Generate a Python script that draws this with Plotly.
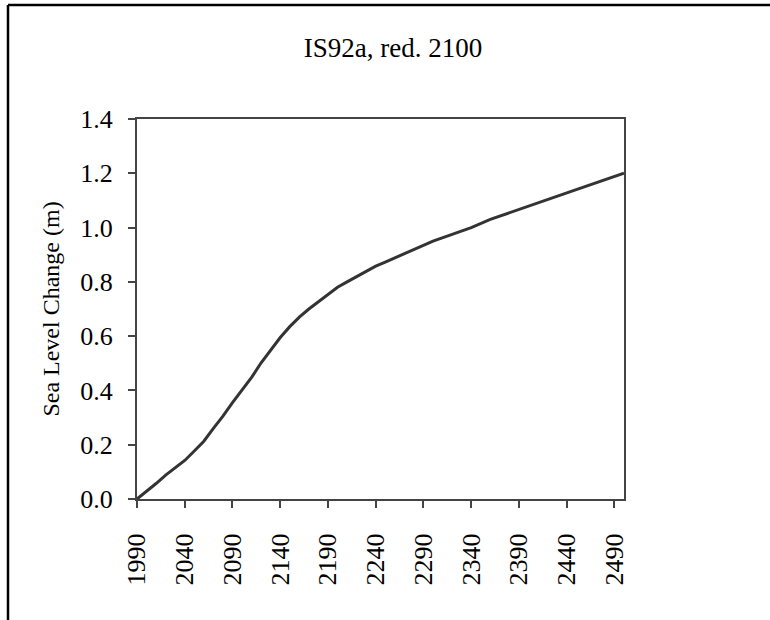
import plotly.graph_objects as go

# Projected sea level change, IS92a scenario with emissions reduced from 2100
years = [1990, 2000, 2010, 2020, 2030, 2040, 2050, 2060, 2070, 2080, 2090,
         2100, 2110, 2120, 2130, 2140, 2150, 2160, 2170, 2180, 2190, 2200,
         2210, 2220, 2230, 2240, 2250, 2260, 2270, 2280, 2290, 2300, 2320,
         2340, 2360, 2380, 2400, 2450, 2500]
sea_level = [0.0, 0.028, 0.057, 0.088, 0.115, 0.142, 0.177, 0.213, 0.26, 0.305, 0.355,
             0.40, 0.448, 0.502, 0.55, 0.595, 0.635, 0.67, 0.70, 0.727, 0.755, 0.78,
             0.80, 0.82, 0.84, 0.858, 0.873, 0.888, 0.903, 0.918, 0.935, 0.95, 0.975,
             1.0, 1.03, 1.055, 1.08, 1.14, 1.2]

x_ticks = list(range(1990, 2500, 50))
y_ticks = [0.0, 0.2, 0.4, 0.6, 0.8, 1.0, 1.2, 1.4]

FONT = "Liberation Serif, Times New Roman, serif"

fig = go.Figure(go.Scatter(
    x=years, y=sea_level, mode="lines",
    line=dict(color="#333333", width=3),
    showlegend=False, hoverinfo="x+y",
))

axis_common = dict(
    showline=True, mirror=True, linecolor="#444444", linewidth=2,
    showgrid=False, zeroline=False,
    ticks="outside", ticklen=7, tickwidth=1.5, tickcolor="#444444",
    tickfont=dict(family=FONT, size=26, color="black"),
)

fig.update_xaxes(
    range=[1990, 2500], tickmode="array", tickvals=x_ticks,
    ticktext=[str(v) for v in x_ticks], tickangle=-90,
    ticklabelstandoff=15, **axis_common,
)
fig.update_yaxes(
    range=[0, 1.4], tickmode="array", tickvals=y_ticks,
    ticktext=[f"{v:.1f}" for v in y_ticks],
    ticklabelstandoff=10,
    title=dict(text="Sea Level Change (m)", font=dict(family=FONT, size=24, color="black"),
               standoff=14),
    **axis_common,
)

fig.update_layout(
    width=770, height=620,
    margin=dict(l=137, r=146, t=119, b=121),
    paper_bgcolor="white", plot_bgcolor="white",
    title=dict(text="IS92a, red. 2100", font=dict(family=FONT, size=27, color="black"),
               x=393 / 770, xanchor="center", y=1 - 48 / 620, yanchor="middle",
               xref="container", yref="container"),
    shapes=[
        # outer chart frame (left and top edges fall inside the page)
        dict(type="line", xref="paper", yref="paper",
             x0=(8 - 137) / 487, x1=(8 - 137) / 487, y0=-1, y1=(499 - 5) / 380,
             line=dict(color="black", width=2.5)),
        dict(type="line", xref="paper", yref="paper",
             x0=(8 - 137) / 487, x1=2, y0=(499 - 5) / 380, y1=(499 - 5) / 380,
             line=dict(color="black", width=2.5)),
    ],
)

fig.write_html("out.html")
